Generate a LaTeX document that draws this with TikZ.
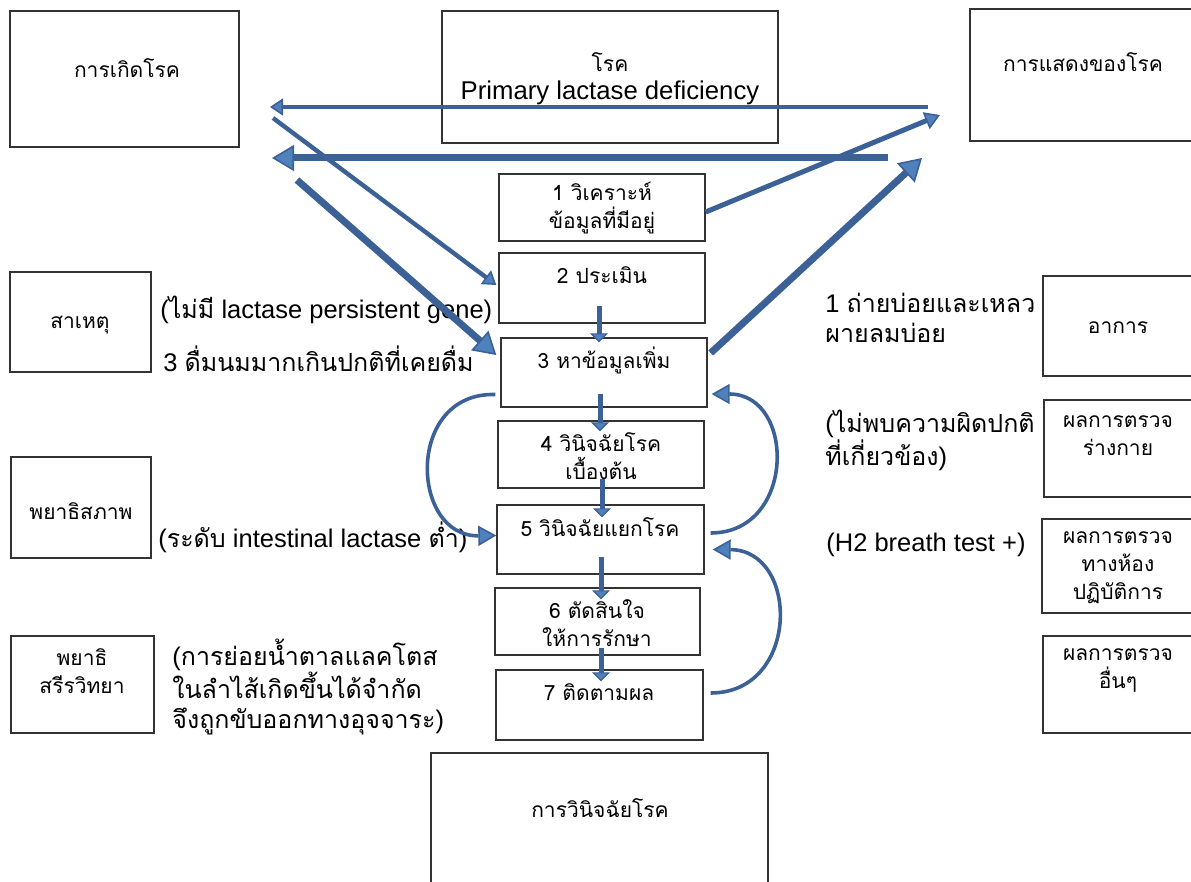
\documentclass[tikz,border=0pt]{standalone}
\usepackage{fontspec}
\setmainfont{Liberation Sans}[Scale=1.02]
\newfontfamily\thai[Script=Thai]{Loma}
\usetikzlibrary{arrows.meta,calc}
\definecolor{lineblue}{RGB}{60,97,150}
\definecolor{headblue}{RGB}{79,129,189}
\newcommand\tx[1]{{\thai #1}}
\tikzset{
  box/.style={draw=black!80, line width=0.7pt, rectangle, inner sep=0pt},
  btxt/.style={font=\thai\fontsize{10.5}{14}\selectfont, align=center, inner sep=0pt},
  lbl/.style={font=\fontsize{12.5}{15}\selectfont, align=left, anchor=west, inner sep=0pt},
  conn/.style={draw=lineblue, line cap=butt},
  thinarr/.style={conn, line width=2.2pt, -{Triangle[length=6.5pt,width=8.5pt,fill=headblue,line width=0.8pt]}},
  midarr/.style={conn, line width=2.5pt, -{Triangle[length=7.5pt,width=9pt,fill=headblue,line width=0.8pt]}},
  thickarr/.style={conn, line width=3.5pt, -{Triangle[length=11pt,width=13pt,fill=headblue,line width=0.8pt]}},
  vertarr/.style={conn, line width=2.5pt, -{Triangle[length=4.5pt,width=9pt,fill=headblue,line width=0.6pt]}},
  curvarr/.style={conn, line width=1.8pt, -{Triangle[length=9pt,width=10pt,fill=headblue,line width=0.8pt]}},
}
\begin{document}
\begin{tikzpicture}[x=0.5pt,y=-0.5pt]
\useasboundingbox (0,0) rectangle (1191,882);
\clip (0,0) rectangle (1191,882);
% top boxes
\node[box, minimum width=114.5pt, minimum height=68pt] (gen) at (124.5,79) {};
\node[box, minimum width=168pt, minimum height=66pt] (dis) at (610,77) {};
\node[box, minimum width=115pt, minimum height=66pt] (man) at (1085,75) {};
% center steps
\node[box, minimum width=103pt, minimum height=33.5pt] (b1) at (602,207.5) {};
\node[box, minimum width=103pt, minimum height=35pt] (b2) at (602,288) {};
\node[box, minimum width=103pt, minimum height=34.5pt] (b3) at (604,372.5) {};
\node[box, minimum width=103pt, minimum height=33.5pt] (b4) at (601,454.5) {};
\node[box, minimum width=103.5pt, minimum height=34.5pt] (b5) at (600.5,539.5) {};
\node[box, minimum width=102.5pt, minimum height=33.5pt] (b6) at (597.5,621.5) {};
\node[box, minimum width=103.5pt, minimum height=35pt] (b7) at (599.5,705) {};
\node[box, minimum width=168.5pt, minimum height=73.5pt] (diag) at (599.5,826.5) {};
% left boxes
\node[box, minimum width=70.5pt, minimum height=50pt] (cause) at (80.5,322) {};
\node[box, minimum width=70pt, minimum height=50.5pt] (patho) at (81,507.5) {};
\node[box, minimum width=71.5pt, minimum height=48.5pt] (physio) at (82.5,684.5) {};
% right boxes
\node[box, minimum width=78.5pt, minimum height=50pt] (sym) at (1121.5,326) {};
\node[box, minimum width=78pt, minimum height=48.5pt] (pe) at (1122,448.5) {};
\node[box, minimum width=79pt, minimum height=47pt] (lab) at (1121,566) {};
\node[box, minimum width=78.5pt, minimum height=48.5pt] (oth) at (1121.5,684.5) {};
% box texts
\node[btxt] (tgen) at (127,68) {การเกิดโรค};
\node[btxt, text height=7pt, text depth=1pt] (tdis1) at (610,66) {โรค};
\node[btxt, font=\fontsize{12.6}{14.5}\selectfont, text height=9pt, text depth=2.5pt] (tdis2) at (610,93.5) {Primary lactase deficiency};
\node[btxt] (tman) at (1083,62) {การแสดงของโรค};
\node[btxt] (t1) at (602,208) {1 วิเคราะห์\\ข้อมูลที่มีอยู่};
\node[btxt] (t2) at (602,275) {2 ประเมิน};
\node[btxt] (t3) at (604,360) {3 หาข้อมูลเพิ่ม};
\node[btxt] (t4) at (601,456) {4 วินิจฉัยโรค\\เบื้องต้น};
\node[btxt] (t5) at (600,527) {5 วินิจฉัยแยกโรค};
\node[btxt] (t6) at (597,623) {6 ตัดสินใจ\\ให้การรักษา};
\node[btxt] (t7) at (599,692) {7 ติดตามผล};
\node[btxt] (tdiag) at (600,808) {การวินิจฉัยโรค};
\node[btxt] (tcause) at (80,325) {สาเหตุ};
\node[btxt] (tpatho) at (81,511) {พยาธิสภาพ};
\node[btxt] (tphysio) at (82,671) {พยาธิ\\สรีรวิทยา};
\node[btxt] (tsym) at (1118,328) {อาการ};
\node[btxt] (tpe) at (1118,436) {ผลการตรวจ\\ร่างกาย};
\node[btxt] (tlab) at (1118,568) {ผลการตรวจ\\ทางห้อง\\ปฏิบัติการ};
\node[btxt] (toth) at (1118,671) {ผลการตรวจ\\อื่นๆ};
% free labels
\node[lbl] (l1) at (160,310) {(\tx{ไม่มี} lactase persistent gene)};
\node[lbl] (l2) at (163,359) {3 \tx{ดื่มนมมากเกินปกติที่เคยดื่ม}};
\node[lbl] (l3) at (158,537) {(\tx{ระดับ} intestinal lactase \tx{ต่ำ})};
\node[lbl] (l4) at (172,687) {(\tx{การย่อยน้ำตาลแลคโตส}\\\tx{ในลำไส้เกิดขึ้นได้จำกัด}\\\tx{จึงถูกขับออกทางอุจจาระ})};
\node[lbl] (l5) at (825,318) {1 \tx{ถ่ายบ่อยและเหลว}\\\tx{ผายลมบ่อย}};
\node[lbl] (l6) at (825,440) {(\tx{ไม่พบความผิดปกติ}\\\tx{ที่เกี่ยวข้อง})};
\node[lbl] (l7) at (826,545) {(H2 breath test +)};
% free ends of the long connectors
\coordinate (a1s) at (928,107);
\coordinate (a1e) at (270,107);
\coordinate (a2s) at (888,158);
\coordinate (a2e) at (272,158);
\coordinate (a3s) at (273,118);
\coordinate (a4s) at (297,180);
\coordinate (a5e) at (940,115);
\coordinate (a6e) at (922,158);
% long connectors
\draw[thinarr] (a1s) -- (a1e);
\draw[thickarr] (a2s) -- (a2e);
\draw[thinarr] (a3s) -- ($(b2.west)+(-2,-3)$);
\draw[thickarr] (a4s) -- ($(b3.west)+(-4,-17.5)$);
\draw[midarr] ($(b1.east)+(0,4.5)$) -- (a5e);
\draw[thickarr] ($(b3.east)+(3,-19.5)$) -- (a6e);
% step arrows
\draw[vertarr] ($(b2.south)+(-3,-18)$) -- ($(b3.north)+(-5,5)$);
\draw[vertarr] ($(b3.south)+(-4,-14)$) -- ($(b4.north)+(-1,11)$);
\draw[vertarr] ($(b4.south)+(1,-10)$) -- ($(b5.north)+(1.5,13)$);
\draw[vertarr] ($(b5.south)+(0.5,-18)$) -- ($(b6.north)+(3.5,12)$);
\draw[vertarr] ($(b6.south)+(3.5,-8)$) -- ($(b7.north)+(1.5,12)$);
% loop arrows
\draw[curvarr] ($(b3.west)+(-5,22)$) .. controls (405,392) and (410,537) .. ($(b5.west)+(0,-4)$);
\draw[curvarr] ($(b5.east)+(6,-6.5)$) .. controls (796,533) and (796,394) .. ($(b3.east)+(4,21.5)$);
\draw[curvarr] ($(b7.east)+(7,-12)$) .. controls (800,693) and (800,550) .. ($(b5.east)+(8,10)$);
\end{tikzpicture}
\end{document}
